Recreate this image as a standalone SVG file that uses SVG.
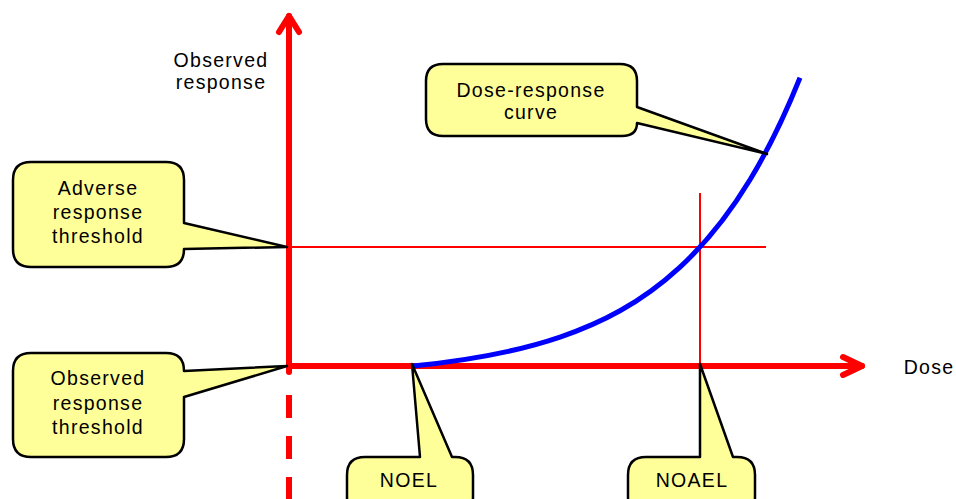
<svg xmlns="http://www.w3.org/2000/svg" width="956" height="499" viewBox="0 0 956 499">
<style>
.t{font-family:"Liberation Sans",Arial,sans-serif;font-size:19.5px;letter-spacing:1.3px;fill:#000;text-anchor:middle}
.co{fill:#FFFF99;stroke:#000;stroke-width:2.5;stroke-linejoin:round}
.ax{stroke:#FF0000;stroke-width:6;fill:none;stroke-linecap:round;stroke-linejoin:round}
.thin{stroke:#FF0000;stroke-width:2;fill:none}
</style>
<rect width="956" height="499" fill="#fff"/>
<g id="connectors">
<line class="thin" x1="289" y1="247" x2="766" y2="247"/>
<line class="thin" x1="700" y1="193" x2="700" y2="366"/>
<path class="ax" d="M289,372 V16"/>
<path class="ax" d="M279,32 L289,16 L299,32"/>
<path class="ax" d="M289,395 V499" stroke-dasharray="23 18" style="stroke-linecap:butt"/>
<path class="ax" d="M289,366 H862"/>
<path class="ax" d="M843,357 L862,366 L843,375"/>
<path id="curve" fill="none" stroke="#0000FF" stroke-width="5" d="M413,366 C462,361.1 511,353.8 560,337.1 C600,323.5 640,303.9 680,267.1 C703.3,245.6 726.7,218.1 750,179.7 C766.7,152.2 783.3,119.3 800,77.7"/>
</g>
<g id="observed-response-label">
<text class="t" x="221" y="67">Observed</text>
<text class="t" x="221" y="89">response</text>
</g>
<g id="dose-label">
<text class="t" x="929" y="374">Dose</text>
</g>
<g id="adverse-threshold">
<path class="co" d="M31,162 H166 Q184,162 184,180 V223 L287,247 L184,249 V249 Q184,267 166,267 H31 Q13,267 13,249 V180 Q13,162 31,162 Z"/>
<text class="t" x="98" y="195">Adverse</text>
<text class="t" x="98" y="219">response</text>
<text class="t" x="98" y="243">threshold</text>
</g>
<g id="observed-threshold">
<path class="co" d="M31,353 H166 Q184,353 184,371 L287,366 L184,397 V439 Q184,457 166,457 H31 Q13,457 13,439 V371 Q13,353 31,353 Z"/>
<text class="t" x="98" y="385">Observed</text>
<text class="t" x="98" y="410">response</text>
<text class="t" x="98" y="434">threshold</text>
</g>
<g id="dose-response-curve">
<path class="co" d="M443,64 H620 Q637,64 637,81 V107 L767,154 L637,123 Q637,136 622,136 H443 Q426,136 426,119 V81 Q426,64 443,64 Z"/>
<text class="t" x="531" y="97">Dose-response</text>
<text class="t" x="531" y="119">curve</text>
</g>
<g id="noel">
<path class="co" d="M365,457 H420 L412,364 L452,457 H455 Q473,457 473,475 V497 Q473,515 455,515 H365 Q347,515 347,497 V475 Q347,457 365,457 Z"/>
<text class="t" x="409" y="487">NOEL</text>
</g>
<g id="noael">
<path class="co" d="M646,457 H700 L700,364 L733,457 H737 Q755,457 755,475 V497 Q755,515 737,515 H646 Q628,515 628,497 V475 Q628,457 646,457 Z"/>
<text class="t" x="692" y="487">NOAEL</text>
</g>
</svg>
